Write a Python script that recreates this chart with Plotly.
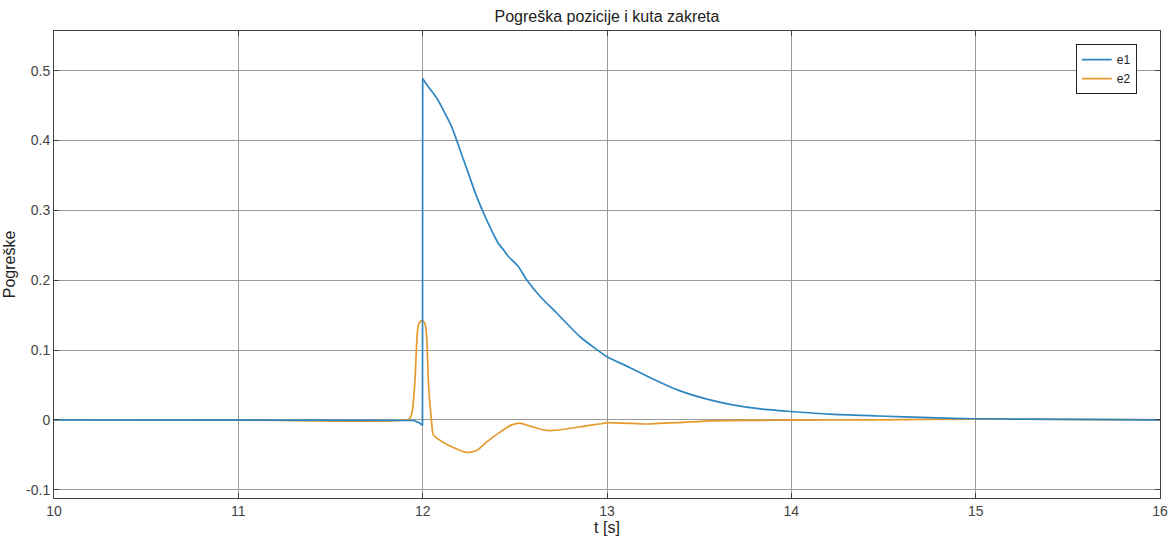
import plotly.graph_objects as go

# ---- data ----
t_e1 = [10.0, 11.0, 11.9, 11.913, 11.95, 11.98, 11.999, 12.0, 12.02, 12.058, 12.085,
        12.112, 12.157, 12.203, 12.248, 12.293, 12.347, 12.41, 12.44, 12.465, 12.519,
        12.564, 12.637, 12.727, 12.854, 13.0, 13.1225, 13.249, 13.393, 13.537,
        13.681, 13.843, 14.0, 14.204, 14.474, 14.75, 15.0, 15.5, 16.0]
e1 = [0.0, 0.0, 0.0, 0.0, -0.001, -0.004, -0.008, 0.489, 0.481, 0.4677, 0.457,
      0.4438, 0.420, 0.3866, 0.353, 0.3198, 0.2864, 0.253, 0.243, 0.234, 0.2196,
      0.2006, 0.1767, 0.153, 0.119, 0.0904, 0.0751, 0.0585, 0.0418, 0.030,
      0.0215, 0.0153, 0.0119, 0.0081, 0.0055, 0.003, 0.0015, 0.0005, 0.0]

t_e2 = [10.0, 11.0, 11.92, 11.935, 11.945, 11.958, 11.965, 11.971, 11.98, 11.995,
        12.008, 12.018, 12.025, 12.031, 12.037, 12.043, 12.05, 12.058, 12.112, 12.166,
        12.238, 12.292, 12.346, 12.418, 12.472, 12.526, 12.58, 12.634, 12.688, 12.778,
        12.886, 12.976, 13.0, 13.05, 13.14, 13.21, 13.28, 13.39, 13.57, 13.8,
        14.0, 14.47, 15.0, 15.5, 16.0]
e2 = [0.0, 0.0, 0.0, 0.004, 0.015, 0.055, 0.095, 0.125, 0.138, 0.142,
      0.140, 0.130, 0.100, 0.055, 0.030, 0.013, -0.008, -0.022, -0.0324, -0.0396,
      -0.0468, -0.044, -0.032, -0.018, -0.0087, -0.0047, -0.0087, -0.0132, -0.0156, -0.0132,
      -0.0087, -0.0053, -0.004, -0.0045, -0.005, -0.006, -0.005, -0.004, -0.0014, -0.0008,
      -0.0005, 0.0, 0.001, 0.0005, 0.0]

x_ticks = [10, 11, 12, 13, 14, 15, 16]
y_ticks = [-0.1, 0, 0.1, 0.2, 0.3, 0.4, 0.5]
y_tick_labels = ["-0.1", "0", "0.1", "0.2", "0.3", "0.4", "0.5"]

BLUE = "#2E86C1"
ORANGE = "#E69A2E"
FONT = "Liberation Sans"

# e1 is drawn in two pieces: the step (straight segments) and the smooth decay
jump = t_e1.index(12.0)

fig = go.Figure()
# e2 first so that e1 is drawn on top (as in the reference)
fig.add_trace(go.Scatter(x=t_e2, y=e2, mode="lines", name="e2", legendrank=2,
                         line=dict(color=ORANGE, width=1.7, shape="spline", smoothing=0.6)))
fig.add_trace(go.Scatter(x=t_e1[:jump + 1], y=e1[:jump + 1], mode="lines", name="e1",
                         legendgroup="e1", legendrank=1,
                         line=dict(color=BLUE, width=1.7)))
fig.add_trace(go.Scatter(x=t_e1[jump:], y=e1[jump:], mode="lines", name="e1",
                         legendgroup="e1", showlegend=False,
                         line=dict(color=BLUE, width=1.7, shape="spline", smoothing=0.6)))

axis_common = dict(showline=True, linecolor="#404040", linewidth=1, mirror="ticks",
                   ticks="inside", ticklen=5, tickcolor="#404040", automargin=False,
                   showgrid=True, gridcolor="#9a9a9a", gridwidth=1,
                   zeroline=False, tickfont=dict(family=FONT, size=14, color="#444444"))

fig.update_xaxes(range=[10, 16], tickvals=x_ticks, ticktext=[str(v) for v in x_ticks],
                 title=dict(text="t [s]", font=dict(family=FONT, size=16, color="#222222"),
                            standoff=4),
                 **axis_common)
fig.update_yaxes(range=[-0.112, 0.557], tickvals=y_ticks, ticktext=y_tick_labels,
                 title=dict(text="Pogreške", font=dict(family=FONT, size=16, color="#222222"),
                            standoff=6),
                 **axis_common)

fig.update_layout(
    width=1174, height=541,
    margin=dict(l=54, r=14, t=31, b=43),
    paper_bgcolor="white", plot_bgcolor="white",
    title=dict(text="Pogreška pozicije i kuta zakreta", x=0.517, xanchor="center",
               y=1 - 16 / 541, yanchor="middle",
               font=dict(family=FONT, size=16, color="#222222")),
    legend=dict(x=0.979, y=0.972, xanchor="right", yanchor="top",
                bgcolor="white", bordercolor="#222222", borderwidth=1,
                font=dict(family=FONT, size=12, color="#222222"),
                itemwidth=30, tracegroupgap=0, traceorder="normal"),
    showlegend=True,
)

fig.write_html("out.html", config={"displayModeBar": False},
               post_script="document.body.style.margin='0';document.body.style.overflow='hidden';")
